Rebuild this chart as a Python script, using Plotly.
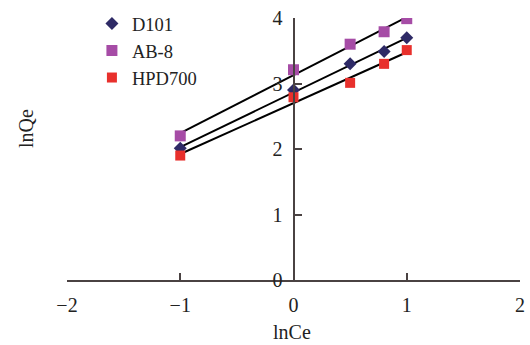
import numpy as np
import plotly.graph_objects as go

x_vals = [-1.0, 0.0, 0.5, 0.8, 1.0]
d101 = [2.01, 2.90, 3.30, 3.49, 3.70]
ab8 = [2.20, 3.21, 3.60, 3.79, 3.99]
hpd700 = [1.90, 2.79, 3.01, 3.30, 3.51]

series_names = ["D101", "AB-8", "HPD700"]
series_vals = [d101, ab8, hpd700]
colors = ["#2E2A66", "#A64CA6", "#E8302C"]
symbols = ["diamond", "square", "square"]
sizes = [10, 11, 10]

x_ticks = [-2, -1, 0, 1, 2]
y_ticks = [0, 1, 2, 3, 4]

FONT = "Liberation Serif"
AXC = "#4a4242"

fig = go.Figure()
xa = np.array(x_vals)
for name, vals, c, s, sz in zip(series_names, series_vals, colors, symbols, sizes):
    k, b = np.polyfit(xa, np.array(vals), 1)
    xl = np.array([min(x_vals), max(x_vals)])
    fig.add_trace(go.Scatter(x=xl, y=k * xl + b, mode="lines",
                             line=dict(color="black", width=2), showlegend=False,
                             hoverinfo="skip"))
for name, vals, c, s, sz in zip(series_names, series_vals, colors, symbols, sizes):
    fig.add_trace(go.Scatter(x=x_vals, y=vals, mode="markers", name=name,
                             marker=dict(color=c, symbol=s, size=sz)))

fig.update_layout(
    width=530, height=345,
    margin=dict(l=67, r=5, t=17, b=65),
    paper_bgcolor="white", plot_bgcolor="white",
    font=dict(family=FONT, size=20, color="#222"),
    showlegend=True,
    legend=dict(x=0.055, y=1.05, xanchor="left", yanchor="top",
                bgcolor="rgba(0,0,0,0)", font=dict(size=18.5, family=FONT),
                itemwidth=30, tracegroupgap=0),
    xaxis=dict(range=[-2, 2], tickvals=x_ticks, showgrid=False, zeroline=False,
               showline=True, linecolor=AXC, linewidth=2,
               ticks="inside", ticklen=7, tickwidth=2, tickcolor=AXC,
               ticklabelstandoff=6),
    yaxis=dict(range=[0, 4], tickvals=y_ticks, showgrid=False, zeroline=False,
               showline=True, linecolor=AXC, linewidth=2,
               ticks="inside", ticklen=7, tickwidth=2, tickcolor=AXC,
               anchor="free", position=0.5, ticklabelstandoff=6),
    annotations=[
        dict(text="lnQe", xref="paper", yref="paper", x=(25 - 67) / 458, y=(280 - 128) / 263,
             xanchor="center", yanchor="middle",
             textangle=-90, showarrow=False, font=dict(size=20, family=FONT)),
        dict(text="lnCe", xref="paper", yref="paper", x=(294 - 67) / 458, y=-(332 - 280) / 263,
             xanchor="center", yanchor="middle",
             showarrow=False, font=dict(size=20, family=FONT)),
    ],
)

fig.write_html("out.html")
